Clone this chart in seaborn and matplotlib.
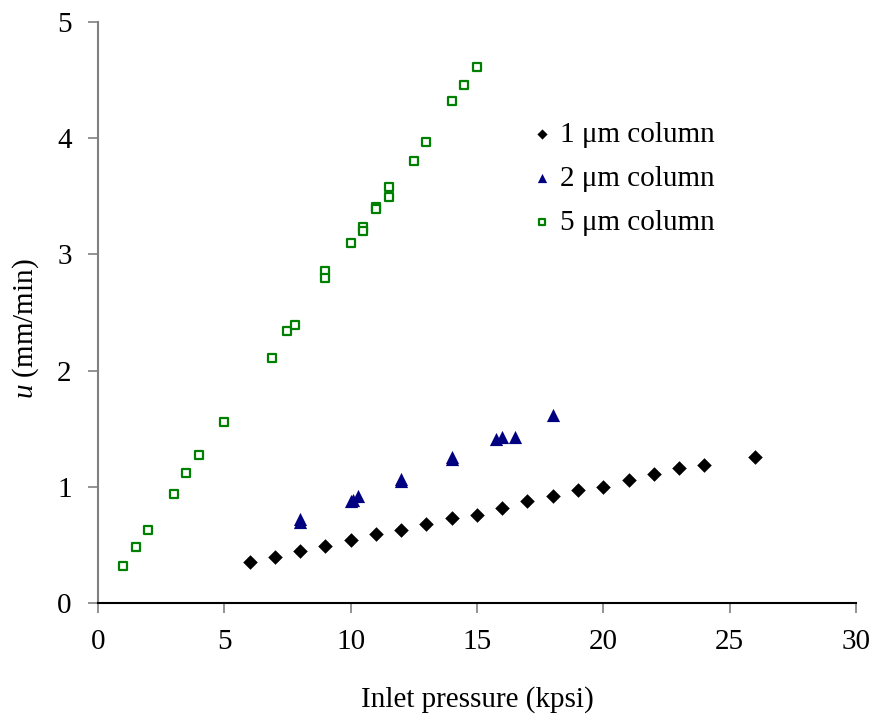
import matplotlib
matplotlib.use("Agg")
import matplotlib.pyplot as plt
import seaborn as sns
import pandas as pd

# Flow velocity vs. inlet pressure for three packed columns
p_1um = [6, 7, 8, 9, 10, 11, 12, 13, 14, 15, 16, 17, 18, 19, 20, 21, 22, 23, 24, 26]
u_1um = [0.35, 0.40, 0.45, 0.49, 0.54, 0.59, 0.63, 0.68, 0.73, 0.76, 0.82,
         0.88, 0.92, 0.97, 1.00, 1.06, 1.11, 1.16, 1.19, 1.26]

p_2um = [8, 8, 10, 10.1, 10.3, 12, 12, 14, 14, 15.75, 16, 16.5, 18]
u_2um = [0.70, 0.72, 0.88, 0.89, 0.92, 1.05, 1.07, 1.24, 1.26, 1.41, 1.43, 1.43, 1.62]

p_5um = [1, 1.5, 2, 3, 3.5, 4, 5, 6.9, 7.5, 7.8, 9, 9, 10, 10.5, 10.5, 11, 11,
         11.5, 11.5, 12.5, 13, 14, 14.5, 15]
u_5um = [0.32, 0.48, 0.63, 0.94, 1.12, 1.27, 1.56, 2.11, 2.34, 2.39, 2.86, 2.80,
         3.10, 3.24, 3.20, 3.41, 3.39, 3.58, 3.49, 3.80, 3.97, 4.32, 4.46, 4.61]

labels = ["1 \u03bcm column", "2 \u03bcm column", "5 \u03bcm column"]
x_ticks = [0, 5, 10, 15, 20, 25, 30]
y_ticks = [0, 1, 2, 3, 4, 5]

sns.set_style("white")
plt.rcParams["font.family"] = ["Liberation Serif", "DejaVu Serif"]
plt.rcParams["text.color"] = "black"
plt.rcParams["axes.labelcolor"] = "black"
plt.rcParams["mathtext.fontset"] = "custom"
plt.rcParams["mathtext.rm"] = "Liberation Serif"
plt.rcParams["mathtext.it"] = "Liberation Serif:italic"

fig = plt.figure(figsize=(8.77, 7.28), dpi=100)
ax = fig.add_axes([0.1117, 0.1717, 0.8643, 0.7981])

df1 = pd.DataFrame({"p": p_1um, "u": u_1um})
df2 = pd.DataFrame({"p": p_2um, "u": u_2um})
df5 = pd.DataFrame({"p": p_5um, "u": u_5um})

sns.scatterplot(data=df1, x="p", y="u", ax=ax, marker="D", s=55,
                color="black", edgecolor="black", linewidth=0, label=labels[0])
sns.scatterplot(data=df2, x="p", y="u", ax=ax, marker="^", s=90,
                color="#000080", edgecolor="#000080", linewidth=0, label=labels[1])
sns.scatterplot(data=df5, x="p", y="u", ax=ax, marker="s", s=34,
                color="white", edgecolor="#008000", linewidth=1.6, label=labels[2])

ax.set_xlim(0, 30)
ax.set_ylim(0, 5)
ax.set_xticks(x_ticks)
ax.set_yticks(y_ticks)
ax.tick_params(axis="both", which="major", labelsize=21, direction="out",
               length=7, width=1.2, color="#808080", labelcolor="black",
               pad=12, left=True, bottom=True)

for side in ["top", "right"]:
    ax.spines[side].set_visible(False)
ax.spines["left"].set_color("#808080")
ax.spines["left"].set_linewidth(1.5)
ax.spines["bottom"].set_color("black")
ax.spines["bottom"].set_linewidth(1.5)

ax.set_xlabel("Inlet pressure (kpsi)", fontsize=21, labelpad=22)
ax.set_ylabel(r"$\it{u}$ (mm/min)", fontsize=21)
ax.yaxis.set_label_coords(-0.075, 0.473)

leg = ax.legend(loc="upper left", bbox_to_anchor=(0.570, 0.829), frameon=False,
                fontsize=21, handlelength=0.8, handletextpad=0.22,
                labelspacing=0.6, markerscale=0.7, borderpad=0,
                borderaxespad=0)

fig.savefig("out.png", dpi=100)
